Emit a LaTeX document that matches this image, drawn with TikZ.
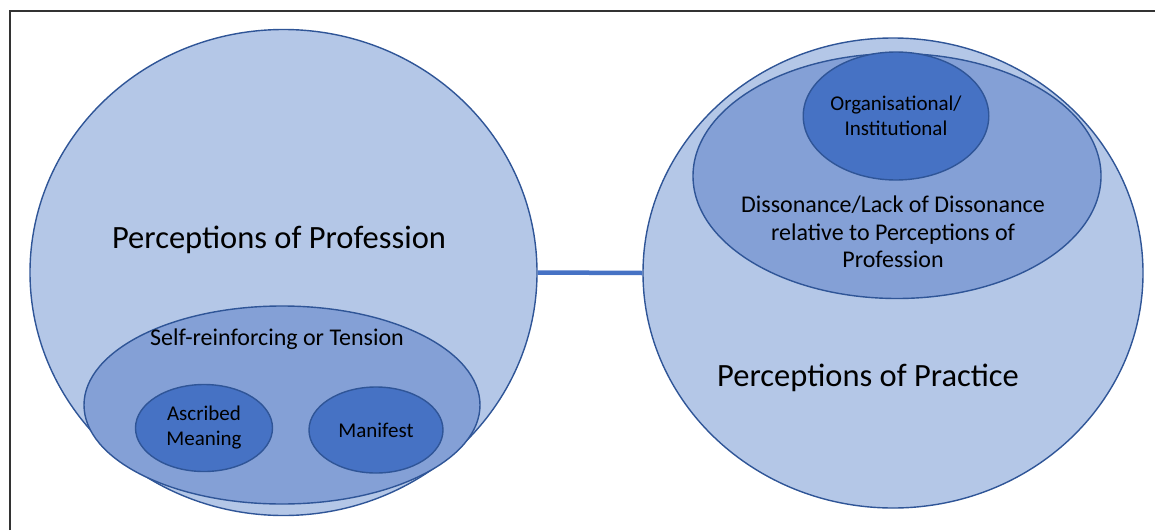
\documentclass[tikz,border=0pt]{standalone}
\usepackage{fontspec}
\setmainfont{Carlito}
\usetikzlibrary{shapes.geometric, positioning}
\definecolor{EdgeBlue}{RGB}{47,85,151}
\definecolor{PaleBlue}{RGB}{180,199,231}
\definecolor{MidBlue}{RGB}{132,160,214}
\definecolor{DeepBlue}{RGB}{70,114,196}

\begin{document}
\begin{tikzpicture}[x=1pt, y=-1pt,
    blob/.style={ellipse, draw=EdgeBlue, line width=1.4pt, inner sep=0pt},
    outer/.style={blob, fill=PaleBlue},
    middle/.style={blob, fill=MidBlue},
    inner/.style={blob, fill=DeepBlue},
    lbl/.style={align=center, font=\fontsize{24}{27.5}\selectfont, text=black},
    small/.style={font=\fontsize{21}{25}\selectfont},
    big/.style={font=\fontsize{32.5}{38}\selectfont}]
        \useasboundingbox (0,0) rectangle (1155,530);
        % frame (only top and left edges show)
        \draw [line width=1.5pt, black!80] (10,530) -- (10,11) -- (1155,11);

        % Perceptions of Profession
        \node [outer, minimum width=507pt, minimum height=486pt] (prof) at (283.5,272.5) {};
        \node [lbl, big] (proftext) at (279,240) {Perceptions of Profession};
        \node [middle, minimum width=396pt, minimum height=198pt] (tension) at (282,405) {};
        \node [lbl] (tensiontext) at (277,339) {Self-reinforcing or Tension};
        \node [inner, minimum width=137pt, minimum height=87pt, lbl, small] (ascribed) at (204,428) {Ascribed\\Meaning};
        \node [inner, minimum width=134pt, minimum height=86pt, lbl, small] (manifest) at (376,430) {Manifest};

        % Perceptions of Practice
        \node [outer, minimum width=500pt, minimum height=470pt] (prac) at (893,273) {};
        \node [lbl, big] (practext) at (868,378) {Perceptions of Practice};
        \node [middle, minimum width=408pt, minimum height=245pt] (dissonance) at (897,176) {};
        \node [lbl] (dissonancetext) at (893,232) {Dissonance/Lack of Dissonance\\relative to Perceptions of\\Profession};
        \node [inner, minimum width=177pt, minimum height=128pt, lbl, small] (organ) at (896,116) {Organisational/\\Institutional};

        % link between the two
        \draw [line width=4.5pt, DeepBlue] (prof.east) -- (prac.west);
    \end{tikzpicture}
\end{document}
